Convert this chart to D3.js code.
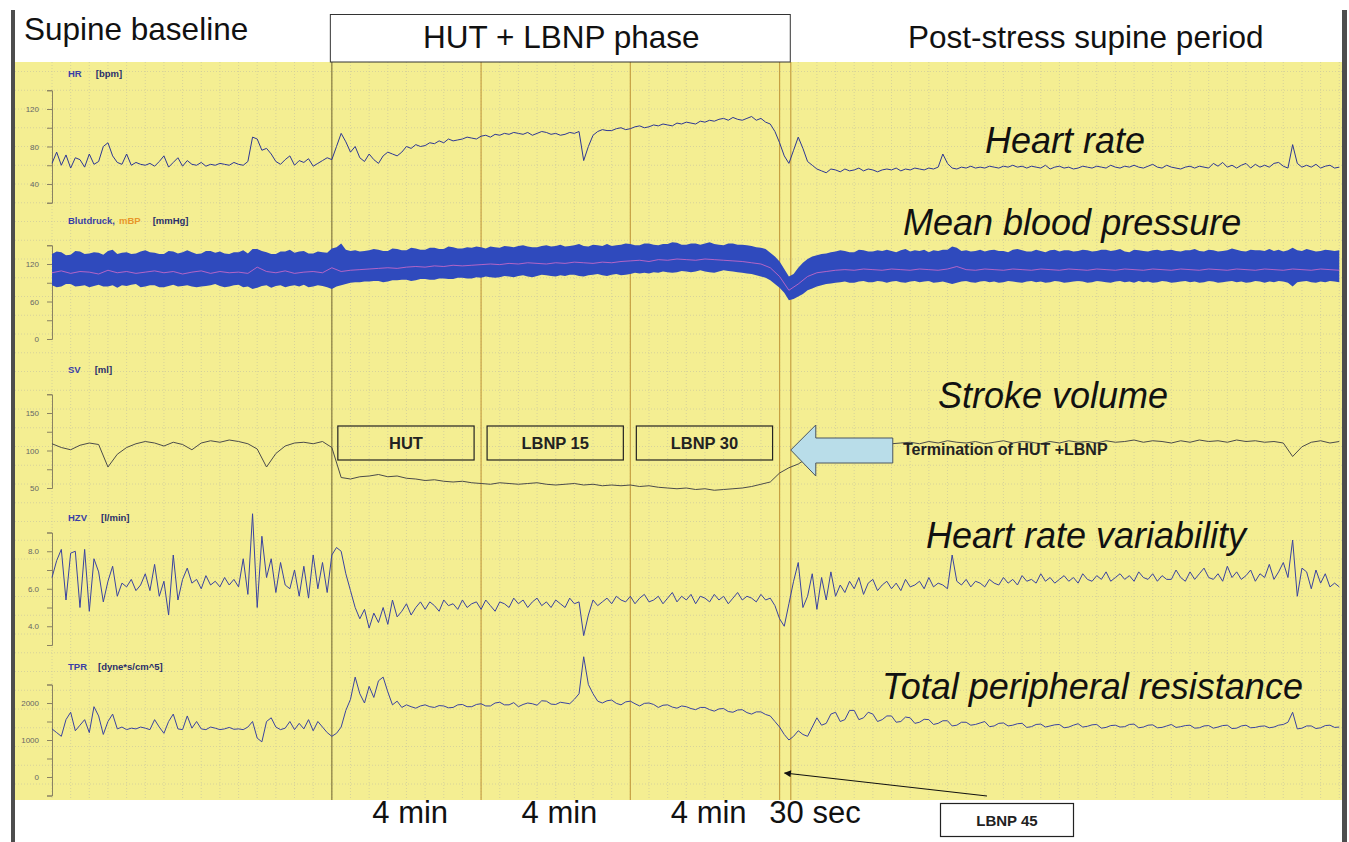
<!DOCTYPE html>
<html>
<head>
<meta charset="utf-8">
<script src="https://cdn.jsdelivr.net/npm/d3@7"></script>
<style>
  body { margin: 0; background: #fff; }
  svg { display: block; font-family: "Liberation Sans", Arial, Helvetica, sans-serif; }
</style>
</head>
<body>
<div id="chart"></div>
<script>
// sampling steps of the traces, in minutes
const fineStep = 0.125;
const coarseStep = 0.25;

// heart rate [bpm], fine step
const hr = [
  62,74,60,71,57,68,66,58,72,61, 64,80,84,70,63,61,72,60,63,61,
  60,62,59,64,70,58,63,68,59,65, 61,60,63,59,61,60,62,61,60,63,
  61,60,64,90,88,76,78,72,64,61, 66,70,60,65,63,67,59,62,65,68,
  66,80,94,85,74,80,68,64,72,66, 62,70,74,72,70,74,80,78,82,80,
  81,84,83,86,84,88,86,87,88,90, 89,88,91,92,90,93,92,94,93,95,
  94,93,95,92,94,96,95,93,94,92, 93,95,94,96,65,80,92,96,98,97,
  97,99,100,98,99,101,102,100,101,103, 102,104,103,102,105,104,106,105,104,107,
  106,108,107,109,110,108,111,109,108,110, 112,108,110,106,104,96,84,70,62,76,
  90,78,64,60,56,54,52,56,55,53, 56,54,55,57,54,56,55,53,55,56,
  55,57,54,56,55,57,56,55,57,56, 58,72,62,57,56,58,57,59,57,58,
  57,59,58,57,59,58,60,58,59,57, 59,58,57,60,56,58,59,57,58,56,
  57,59,58,57,59,58,57,60,58,57, 59,58,60,58,57,59,61,58,57,60,
  58,57,56,58,59,57,59,58,57,62, 59,63,58,60,57,60,62,57,61,58,
  60,58,62,63,59,57,82,62,58,60, 58,61,57,59,60,57,58
];

// blood pressure band edges [mmHg], fine step
const bpUpper = [
  136,140,139,134,135,141,140,136,137,139, 138,135,141,143,136,138,139,136,137,140,
  142,139,138,136,136,141,140,137,139,142, 139,136,137,141,141,138,140,137,136,139,
  139,142,137,144,144,141,139,136,136,140, 140,143,138,140,141,137,137,140,139,138,
  145,147,153,143,141,142,140,141,142,144, 143,141,141,145,144,142,142,146,145,143,
  143,146,146,144,144,148,147,145,145,147, 146,148,147,145,148,147,146,149,148,147,
  149,150,148,147,147,149,150,148,149,151, 148,149,150,152,149,148,151,150,149,152,
  149,150,151,153,152,150,150,153,153,151, 150,152,152,155,154,151,151,153,153,151,
  153,155,152,151,150,153,153,151,151,150, 149,147,146,144,138,132,124,112,100,104,
  114,122,128,132,134,136,137,139,140,142, 141,139,139,143,142,140,140,142,141,143,
  141,139,142,144,140,142,141,143,139,142, 141,143,143,148,146,141,142,140,141,143,
  140,142,143,141,141,139,143,144,142,140, 140,143,141,139,142,143,140,142,142,140,
  141,143,142,140,141,143,143,141,142,144, 140,139,143,142,141,140,142,143,141,142,
  143,141,140,142,142,144,141,140,143,142, 140,141,142,145,143,141,140,143,142,142,
  141,144,141,143,140,142,146,142,141,144, 142,140,141,143,142,141,142
];
const bpLower = [
  86,83,84,88,88,84,85,86,83,85, 87,84,84,86,82,86,85,87,88,83,
  84,86,86,83,83,85,87,84,85,86, 84,83,84,85,86,88,85,83,84,86,
  87,83,84,80,82,85,86,82,85,86, 83,85,86,84,87,83,84,86,85,83,
  80,84,86,88,90,91,91,92,92,93, 93,91,92,94,94,95,95,93,94,96,
  96,95,95,97,97,96,96,98,98,97, 97,99,98,100,99,98,99,101,100,99,
  101,102,100,99,101,103,102,101,100,102, 101,103,103,101,100,102,103,104,102,101,
  103,104,102,103,104,106,105,106,105,107, 106,108,107,106,107,109,108,107,108,110,
  108,107,106,108,110,109,108,107,106,105, 104,102,100,98,94,88,82,74,62,64,
  68,72,78,81,84,86,88,89,90,91, 92,90,90,92,93,91,91,93,92,90,
  92,93,91,90,92,93,91,92,93,90, 91,92,90,88,90,92,93,91,90,92,
  93,91,92,90,91,93,92,91,90,92, 93,91,92,90,91,93,92,90,91,92,
  93,92,90,91,93,92,91,90,92,93, 91,92,90,93,91,92,90,91,93,92,
  90,91,92,93,91,92,90,91,93,92, 90,91,92,93,91,92,90,91,93,92,
  90,92,91,93,92,90,84,91,92,93, 91,90,92,91,93,92,91
];

// mean blood pressure mBP [mmHg], coarse step
const mbp = [
  106,109,105,108,107,104,110,106,108,105,
  107,109,106,108,104,107,109,105,108,106,
  107,105,115,108,106,109,105,107,108,106,
  114,108,110,111,112,113,114,113,115,116,
  115,117,116,118,117,118,119,120,119,121,
  120,122,121,120,122,121,123,122,121,123,
  122,124,125,126,124,127,126,128,127,126,
  128,127,126,125,124,122,120,114,100,78,
  88,100,106,108,110,111,110,112,111,110,
  112,111,110,112,111,110,112,116,111,110,
  112,111,110,112,111,110,112,111,110,112,
  111,110,112,111,110,112,111,110,112,111,
  110,112,111,110,112,111,110,112,111,110,
  112,111,110,112,111,110,112,111,110
];

// stroke volume [ml], coarse step
const sv = [
  109,104,101,107,110,108,78,95,104,109,
  112,110,106,111,108,101,110,113,111,114,
  112,109,102,78,96,106,110,111,109,112,
  104,64,62,65,66,68,65,66,63,62,
  60,61,59,58,59,57,56,55,57,56,
  55,56,57,55,54,55,56,54,55,53,
  54,53,54,52,53,51,50,49,50,48,
  49,47,48,49,50,52,55,58,70,77,
  82,90,98,104,107,106,108,107,110,108,
  109,110,111,109,112,110,113,111,110,112,
  109,111,113,110,112,111,109,112,110,113,
  111,112,110,113,111,112,114,111,113,112,
  110,113,111,114,112,113,111,114,112,113,
  111,112,110,92,105,111,113,110,112
];

// cardiac output HZV [l/min], fine step
const hzv = [
  6.6,7.5,8.1,5.4,7.9,8.0,5.0,8.1,4.8,7.6, 6.9,5.3,6.4,7.2,5.6,6.3,6.1,6.5,5.9,6.2,
  6.8,5.9,7.3,5.6,6.4,4.6,7.8,5.4,6.5,7.1, 6.3,6.5,6.0,6.7,6.2,6.4,6.1,6.6,6.2,6.5,
  6.1,7.6,5.7,10.0,5.0,8.8,6.6,7.6,5.8,7.4, 6.2,6.0,7.0,5.6,7.2,5.5,7.8,6.0,7.4,5.8,
  7.8,8.2,8.0,6.8,5.9,5.0,4.4,4.9,3.9,4.7, 4.2,5.0,4.1,5.4,4.5,4.8,5.2,4.6,5.0,5.3,
  4.9,5.3,5.1,4.8,5.4,5.1,5.2,4.9,5.4,5.0, 5.2,5.3,4.9,5.4,5.1,4.8,5.3,5.2,5.0,5.5,
  5.2,5.4,5.0,5.3,5.5,5.1,5.3,5.0,5.4,5.2, 5.0,5.5,5.2,5.3,3.5,4.6,5.4,5.1,5.3,5.5,
  5.2,5.6,5.4,5.3,5.6,5.2,5.5,5.7,5.3,5.4, 5.6,5.2,5.5,5.8,5.3,5.6,5.4,5.7,5.2,5.6,
  5.5,5.3,5.7,5.4,5.6,5.2,5.5,5.8,5.4,5.6, 5.5,5.3,5.7,5.4,5.5,5.1,4.4,4.0,5.2,6.4,
  7.4,5.0,5.6,6.8,4.9,6.6,5.4,6.9,5.6,6.2, 5.8,6.4,6.0,6.6,5.7,6.3,6.5,5.9,6.2,6.4,
  6.0,6.3,5.9,6.5,6.1,6.2,6.4,6.0,6.6,6.1, 6.3,6.2,6.0,7.8,6.4,6.2,6.5,6.1,6.4,6.3,
  6.1,6.5,6.3,6.2,6.6,6.3,6.5,6.2,6.7,6.4, 6.5,6.3,6.8,6.4,6.6,6.3,6.5,6.7,6.4,6.6,
  6.3,6.8,6.5,6.4,6.7,6.5,6.9,6.4,6.6,6.8, 6.5,6.7,6.4,6.9,6.6,6.5,6.8,6.4,6.7,6.5,
  6.5,7.0,6.6,6.4,6.9,6.5,6.8,7.1,6.6,6.5, 6.8,6.4,7.2,6.6,6.9,6.5,6.7,7.0,6.4,6.8,
  6.6,7.3,6.5,6.9,7.4,6.6,8.6,5.6,7.1,6.9, 6.0,7.0,6.3,6.8,6.1,6.3,6.1
];

// total peripheral resistance [dyne*s/cm^5], fine step
const tpr = [
  1300,1200,1100,1550,1750,1250,1400,1550,1200,1900, 1650,1150,1500,1700,1300,1350,1280,1320,1300,1350,
  1320,1280,1550,1350,1180,1500,1700,1300,1280,1650, 1320,1500,1300,1280,1350,1320,1280,1300,1340,1290,
  1300,1280,1350,1500,1050,950,1500,1600,1350,1280, 1320,1500,1280,1450,1300,1550,1250,1500,1350,1200,
  1100,1180,1350,1800,2100,2700,2250,2000,2450,2150, 2600,2700,2300,1950,2050,1880,1950,1900,1860,1920,
  1950,1900,1880,1930,1920,1870,1880,1950,1960,1900, 1900,1960,1980,1920,1920,2000,2020,1950,1950,2010,
  1900,1960,2000,1980,1940,2060,2050,1970,1960,2020, 2000,1980,2100,2250,3250,2500,2250,2050,2000,2060,
  2080,1990,1950,2030,2050,1980,1920,1990,2000,1960, 1880,1940,1950,1890,1860,1920,1900,1850,1820,1880,
  1880,1820,1780,1840,1850,1770,1750,1810,1820,1740, 1700,1760,1760,1690,1650,1500,1350,1150,1000,1100,
  1250,1150,1100,1350,1600,1400,1450,1700,1750,1500, 1550,1800,1800,1550,1600,1750,1700,1500,1550,1650,
  1650,1480,1500,1620,1600,1450,1480,1560,1550,1420, 1450,1520,1520,1380,1400,1480,1480,1400,1420,1460,
  1500,1360,1380,1450,1460,1380,1400,1440,1450,1340, 1360,1420,1430,1350,1380,1410,1420,1330,1350,1400,
  1440,1350,1370,1410,1420,1320,1340,1390,1400,1350, 1360,1420,1430,1330,1350,1400,1410,1330,1340,1380,
  1420,1340,1360,1390,1400,1320,1330,1380,1390,1320, 1350,1390,1400,1310,1320,1380,1400,1330,1340,1370,
  1380,1330,1350,1400,1420,1480,1750,1300,1320,1380, 1380,1310,1330,1390,1400,1340,1350
];

// protocol markers (minutes)
const phaseTimes = [7.5, 11.5, 15.5, 19.5, 19.8];
const phaseNames = ["HUT", "LBNP 15", "LBNP 30"];
const durLabels = ["4 min", "4 min", "4 min", "30 sec"];
const durLabelTimes = [9.6, 13.6, 17.6, 20.45];
const headers = ["Supine baseline", "HUT + LBNP phase", "Post-stress supine period"];
const totalTime = 34.6;

const width = 1349, height = 842;
const yellow = "#f4ee92";

const svg = d3.select("#chart").append("svg")
  .attr("width", width)
  .attr("height", height)
  .attr("viewBox", [0, 0, width, height]);

svg.append("defs").append("marker")
  .attr("id", "head")
  .attr("viewBox", "0 -5 10 10")
  .attr("refX", 9).attr("refY", 0)
  .attr("markerWidth", 9).attr("markerHeight", 7)
  .attr("markerUnits", "userSpaceOnUse")
  .attr("orient", "auto")
  .append("path").attr("d", "M0,-5L10,0L0,5Z").attr("fill", "#111");

const x = d3.scaleLinear().domain([0, totalTime]).range([52, 1343]);

// background
svg.append("rect").attr("x", 15).attr("y", 62).attr("width", 1327).attr("height", 738).attr("fill", yellow);

// dotted grid
const grid = svg.append("g").attr("stroke", "#cfcb9c").attr("stroke-width", 0.8).attr("stroke-dasharray", "1,2");
grid.selectAll("line.v").data(d3.range(0, totalTime, 0.5)).join("line")
  .attr("class", "v")
  .attr("x1", d => x(d)).attr("x2", d => x(d)).attr("y1", 62).attr("y2", 800);
grid.selectAll("line.h").data(d3.range(71.5, 800, 18.75)).join("line")
  .attr("class", "h")
  .attr("x1", 15).attr("x2", 1342).attr("y1", d => d).attr("y2", d => d);

// side bars
svg.append("rect").attr("x", 11).attr("y", 10).attr("width", 4).attr("height", 832).attr("fill", "#4d4d4d");
svg.append("rect").attr("x", 1342).attr("y", 10).attr("width", 5).attr("height", 832).attr("fill", "#4d4d4d");

// phase lines
svg.append("g").selectAll("line").data(phaseTimes).join("line")
  .attr("x1", d => x(d)).attr("x2", d => x(d))
  .attr("y1", 62).attr("y2", 800)
  .attr("stroke", (d, i) => i === 0 ? "#857a3e" : "#c6a043")
  .attr("stroke-width", 1.2);

// panels
const panels = [
  { key: "hr", data: hr, step: fineStep, domain: [20, 140], range: [202.75, 90.25], ticks: [20, 40, 60, 80, 100, 120, 140], labels: [40, 80, 120], fmt: d3.format("d"),
    name: "HR", unit: "[bpm]", labelY: 77, title: "Heart rate", titleX: 985, titleY: 153, color: "#2d3794" },
  { key: "bp", data: mbp, step: coarseStep, domain: [0, 150], range: [339, 245.25], ticks: [0, 30, 60, 90, 120, 150], labels: [0, 60, 120], fmt: d3.format("d"),
    name: "Blutdruck,", unit: "[mmHg]", labelY: 224, title: "Mean blood pressure", titleX: 903, titleY: 235, color: "#d46bc8" },
  { key: "sv", data: sv, step: coarseStep, domain: [50, 175], range: [488, 394.25], ticks: [50, 75, 100, 125, 150, 175], labels: [50, 100, 150], fmt: d3.format("d"),
    name: "SV", unit: "[ml]", labelY: 373, title: "Stroke volume", titleX: 938, titleY: 408, color: "#4b4b4b" },
  { key: "hzv", data: hzv, step: fineStep, domain: [3, 9], range: [645, 532.5], ticks: [3, 4, 5, 6, 7, 8, 9], labels: [4, 6, 8], fmt: d3.format(".1f"),
    name: "HZV", unit: "[l/min]", labelY: 521, title: "Heart rate variability", titleX: 926, titleY: 548, color: "#3a43a0" },
  { key: "tpr", data: tpr, step: fineStep, domain: [-500, 2500], range: [795.5, 684.5], ticks: [-500, 0, 500, 1000, 1500, 2000, 2500], labels: [0, 1000, 2000], fmt: d3.format("d"),
    name: "TPR", unit: "[dyne*s/cm^5]", labelY: 670, title: "Total peripheral resistance", titleX: 882, titleY: 699, color: "#3a43a0" }
];

panels.forEach(p => {
  const y = d3.scaleLinear().domain(p.domain).range(p.range);
  const g = svg.append("g").attr("class", "panel-" + p.key);

  const axis = d3.axisLeft(y)
    .tickValues(p.ticks)
    .tickFormat(d => p.labels.includes(d) ? p.fmt(d) : "")
    .tickSize(5).tickSizeOuter(5).tickPadding(8);
  const ax = g.append("g").attr("transform", "translate(52,0)").call(axis);
  ax.selectAll("path, line").attr("stroke", "#8a8262");
  ax.selectAll("text").attr("fill", "#666").attr("font-size", 8).attr("font-family", "Liberation Sans, Arial, sans-serif");

  // small channel label
  const lab = g.append("text").attr("x", 68).attr("y", p.labelY)
    .attr("font-size", 9.5).attr("font-weight", "bold");
  lab.append("tspan").attr("fill", "#3a3fa6").text(p.name);
  if (p.key === "bp") {
    lab.append("tspan").attr("fill", "#e8962a").attr("dx", 4).text("mBP");
    lab.append("tspan").attr("fill", "#2a2f6a").attr("dx", 12).text(p.unit);
  } else {
    lab.append("tspan").attr("fill", "#2a2f6a").attr("dx", p.key === "tpr" ? 11 : 14).text(p.unit);
  }

  if (p.key === "bp") {
    const band = d3.area()
      .x((d, i) => x(i * fineStep))
      .y0((d, i) => y(bpLower[i]))
      .y1(d => y(d));
    g.append("path").datum(bpUpper).attr("d", band).attr("fill", "#2f4abd");
  }

  const line = d3.line().x((d, i) => x(i * p.step)).y(d => y(d));
  g.append("path").datum(p.data)
    .attr("d", line)
    .attr("fill", "none")
    .attr("stroke", p.color)
    .attr("stroke-width", p.key === "bp" ? 0.8 : 1)
    .attr("stroke-linejoin", "round");

  g.append("text")
    .attr("x", p.titleX).attr("y", p.titleY)
    .attr("font-size", 36).attr("font-style", "italic")
    .attr("fill", "#111")
    .text(p.title);
});

// phase boxes inside SV panel
const boxes = svg.append("g");
phaseNames.forEach((name, i) => {
  const x0 = x(phaseTimes[i]) + 6, x1 = x(phaseTimes[i + 1]) - 7;
  boxes.append("rect").attr("x", x0).attr("y", 426).attr("width", x1 - x0).attr("height", 34)
    .attr("fill", "none").attr("stroke", "#222").attr("stroke-width", 1.2);
  boxes.append("text").attr("x", (x0 + x1) / 2).attr("y", 449)
    .attr("text-anchor", "middle").attr("font-size", 16.5).attr("font-weight", "bold")
    .attr("fill", "#222").text(name);
});

// termination arrow
const tip = x(phaseTimes[4]);
const arrowPts = [[tip, 450], [tip + 25, 425], [tip + 25, 438], [tip + 102, 438], [tip + 102, 463], [tip + 25, 463], [tip + 25, 476]];
svg.append("path")
  .attr("d", d3.line()(arrowPts) + "Z")
  .attr("fill", "#b9dde9").attr("stroke", "#4a5560").attr("stroke-width", 1);
svg.append("text").attr("x", 903).attr("y", 455)
  .attr("font-size", 16).attr("font-weight", "bold").attr("fill", "#222")
  .text("Termination of HUT +LBNP");

// header
svg.append("text").attr("x", 24).attr("y", 40).attr("font-size", 31.5).attr("fill", "#111").text(headers[0]);
svg.append("rect").attr("x", x(phaseTimes[0]) - 1.5).attr("y", 14.5)
  .attr("width", x(phaseTimes[4]) - x(phaseTimes[0]) + 1).attr("height", 47.5)
  .attr("fill", "#fff").attr("stroke", "#333").attr("stroke-width", 1);
svg.append("text").attr("x", (x(phaseTimes[0]) + x(phaseTimes[4])) / 2).attr("y", 48)
  .attr("text-anchor", "middle").attr("font-size", 31.5).attr("fill", "#111").text(headers[1]);
svg.append("text").attr("x", 908).attr("y", 48).attr("font-size", 31.5).attr("fill", "#111").text(headers[2]);

// duration labels
svg.append("g").selectAll("text").data(durLabels).join("text")
  .attr("x", (d, i) => x(durLabelTimes[i]))
  .attr("y", 823)
  .attr("text-anchor", "middle")
  .attr("font-size", 31).attr("fill", "#111")
  .text(d => d);

// LBNP 45 note
svg.append("rect").attr("x", 940.5).attr("y", 803.5).attr("width", 133).attr("height", 33)
  .attr("fill", "#fff").attr("stroke", "#222").attr("stroke-width", 1.2);
svg.append("text").attr("x", 1007).attr("y", 826).attr("text-anchor", "middle")
  .attr("font-size", 15).attr("font-weight", "bold").attr("fill", "#222").text("LBNP 45");
svg.append("line")
  .attr("x1", 987).attr("y1", 796).attr("x2", x(phaseTimes[3]) + 5).attr("y2", 773)
  .attr("stroke", "#111").attr("stroke-width", 1.2)
  .attr("marker-end", "url(#head)");
</script>
</body>
</html>
